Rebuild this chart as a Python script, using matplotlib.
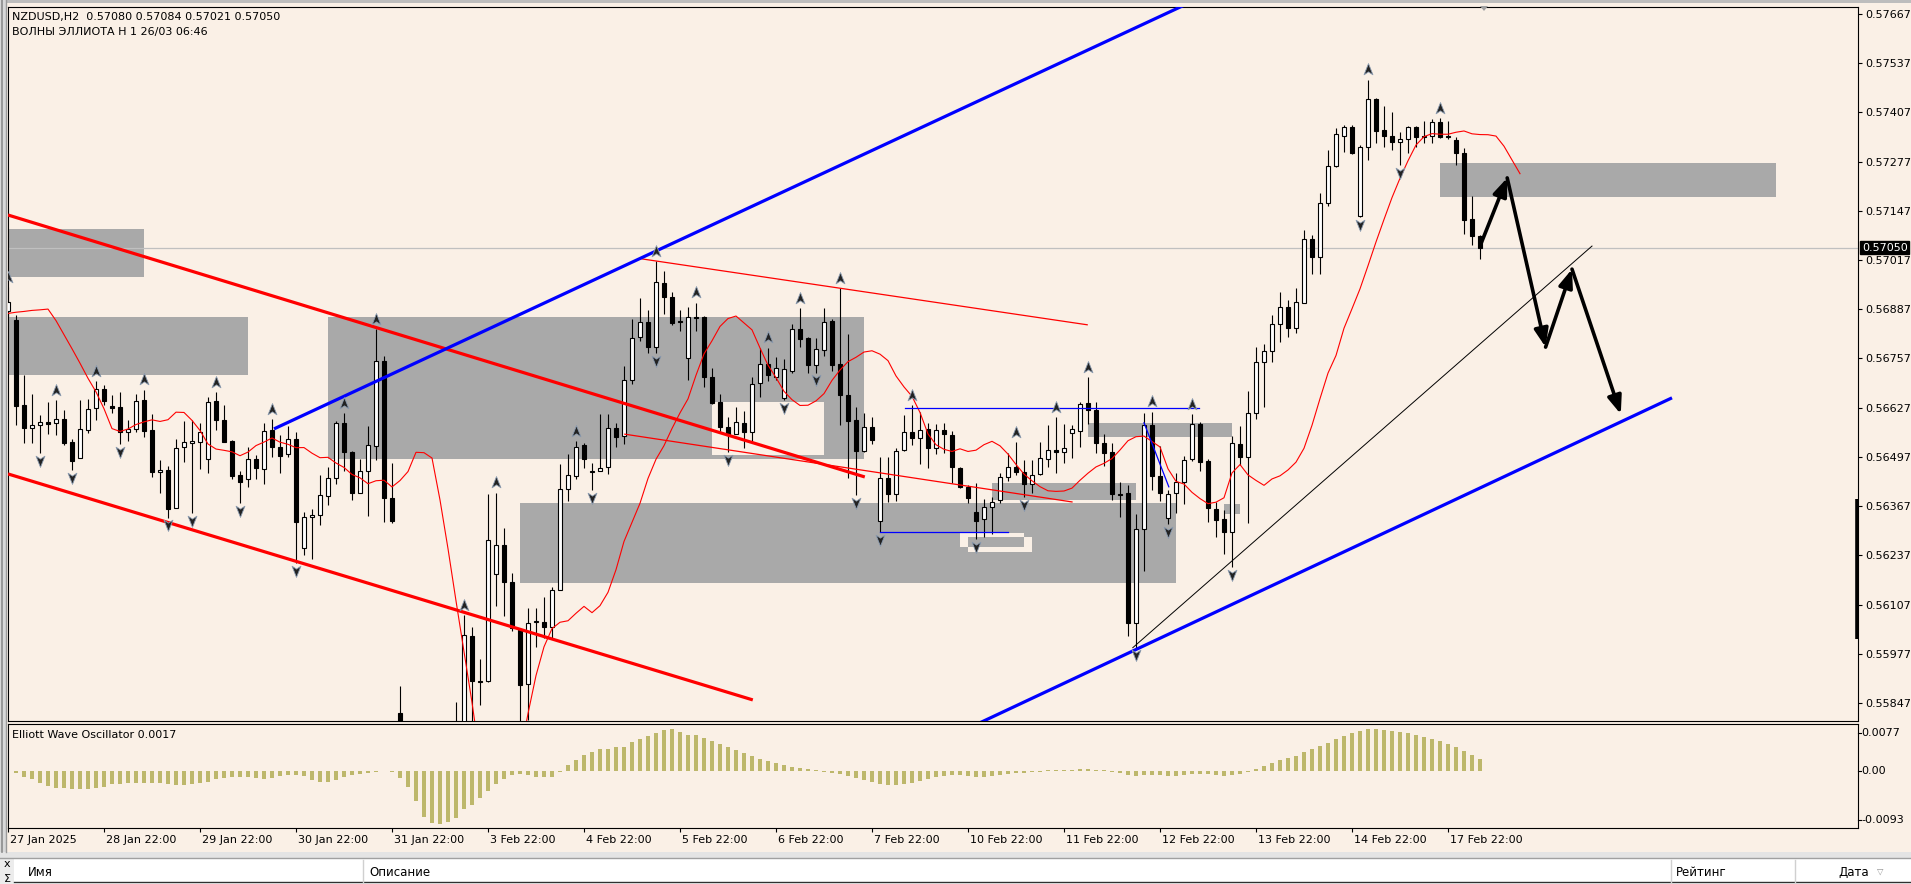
import numpy as np
import matplotlib
matplotlib.use("Agg")
import matplotlib.pyplot as plt
from matplotlib.path import Path
from matplotlib.patches import Rectangle, Polygon
import matplotlib.transforms as mtransforms

plt.rcParams['font.family'] = ['DejaVu Sans']

# ---------------- data ----------------
symbol_line = "NZDUSD,H2  0.57080 0.57084 0.57021 0.57050"
indicator_line = "ВОЛНЫ ЭЛЛИОТА H 1 26/03 06:46"
osc_title = "Elliott Wave Oscillator 0.0017"
date_labels = ["27 Jan 2025", "28 Jan 22:00", "29 Jan 22:00", "30 Jan 22:00", "31 Jan 22:00",
               "3 Feb 22:00", "4 Feb 22:00", "5 Feb 22:00", "6 Feb 22:00", "7 Feb 22:00",
               "10 Feb 22:00", "11 Feb 22:00", "12 Feb 22:00", "13 Feb 22:00", "14 Feb 22:00",
               "17 Feb 22:00"]
date_label_bars = [0, 12, 24, 36, 48, 60, 72, 84, 96, 108, 120, 132, 144, 156, 168, 180]
price_ticks = [0.57667, 0.57537, 0.57407, 0.57277, 0.57147, 0.57017, 0.56887, 0.56757,
               0.56627, 0.56497, 0.56367, 0.56237, 0.56107, 0.55977, 0.55847]
price_tick_labels = ["0.57667", "0.57537", "0.57407", "0.57277", "0.57147", "0.57017", "0.56887",
                     "0.56757", "0.56627", "0.56497", "0.56367", "0.56237", "0.56107", "0.55977",
                     "0.55847"]
current_price = 0.57050
osc_ticks = [0.0077, 0.0, -0.0093]
osc_tick_labels = ["0.0077", "0.00", "-0.0093"]

# H2 candles, prices in points (1e-5)
open_pts = [56882,56859,56634,56573,56581,56589,56586,56597,56536,56494,
 56568,56626,56676,56631,56629,56563,56571,56647,56568,56457,
 56462,56362,56523,56534,56536,56491,56645,56594,56539,56449,
 56438,56491,56465,56568,56523,56504,56544,56256,56338,56343,
 56394,56441,56586,56510,56402,56460,56525,56750,56388,55820,
 55700,55480,55300,55380,55460,55560,55660,55760,56024,55905,
 55905,56188,56264,56167,56040,55897,56061,56061,56048,56145,
 56412,56446,56528,56457,56460,56470,56573,56552,56700,56814,
 56853,56787,56956,56919,56856,56758,56867,56867,56708,56642,
 56576,56557,56586,56563,56692,56742,56708,56652,56724,56835,
 56811,56740,56779,56856,56742,56660,56594,56512,56576,56328,
 56441,56399,56515,56563,56547,56571,56520,56568,56555,56468,
 56417,56351,56333,56365,56383,56444,56470,56457,56425,56452,
 56491,56515,56510,56560,56565,56640,56621,56534,56510,56399,
 56402,56058,56306,56581,56446,56336,56402,56431,56491,56583,
 56486,56359,56333,56298,56531,56497,56613,56748,56776,56848,
 56893,56838,56903,57073,57025,57168,57265,57345,57369,57133,
 57315,57442,57361,57345,57329,57337,57369,57345,57345,57382,
 57345,57334,57300,57125,57080]
high_pts = [56946,56872,56713,56663,56608,56642,56647,56621,56544,56647,
 56650,56697,56687,56660,56668,56594,56663,56674,56610,56489,
 56473,56544,56592,56594,56586,56655,56668,56634,56541,56459,
 56523,56502,56586,56597,56555,56578,56563,56351,56359,56449,
 56470,56592,56613,56512,56491,56578,56835,56764,56481,55892,
 55740,55560,55420,55500,55600,55700,55850,56079,56048,55963,
 56399,56402,56309,56190,56043,56098,56098,56127,56153,56478,
 56505,56539,56534,56481,56610,56610,56586,56737,56861,56917,
 56885,57014,56988,56932,56885,56893,56904,56869,56732,56663,
 56602,56629,56618,56708,56784,56785,56761,56756,56848,56890,
 56813,56811,56890,56861,56943,56822,56629,56613,56602,56497,
 56497,56520,56608,56634,56616,56586,56583,56586,56565,56470,
 56423,56428,56386,56391,56454,56507,56536,56489,56489,56536,
 56581,56602,56583,56581,56641,56708,56642,56557,56534,56431,
 56423,56346,56613,56616,56525,56409,56454,56499,56610,56589,
 56491,56378,56356,56552,56578,56671,56787,56795,56872,56932,
 56912,56943,57096,57083,57194,57308,57366,57374,57374,57321,
 57493,57444,57424,57408,57355,57371,57371,57384,57390,57392,
 57384,57342,57313,57186,57084]
low_pts = [56867,56581,56534,56534,56507,56557,56555,56528,56462,56494,
 56560,56594,56634,56613,56531,56539,56563,56550,56444,56402,
 56336,56362,56483,56349,56465,56454,56568,56536,56438,56375,
 56417,56438,56425,56497,56454,56497,56217,56238,56227,56317,
 56370,56425,56460,56383,56402,56341,56489,56325,56322,55640,
 55420,55160,55200,55330,55420,55500,55600,55720,55780,55842,
 55902,56103,56076,56037,55776,55802,55995,56019,56019,56145,
 56380,56438,56468,56409,56460,56452,56523,56531,56690,56803,
 56771,56771,56874,56845,56830,56700,56830,56682,56637,56560,
 56510,56557,56520,56536,56655,56697,56700,56647,56719,56787,
 56719,56719,56763,56724,56581,56441,56396,56510,56531,56298,
 56378,56380,56512,56528,56478,56468,56504,56507,56428,56415,
 56375,56280,56285,56293,56375,56433,56449,56391,56402,56449,
 56470,56454,56481,56494,56523,56584,56507,56473,56383,56338,
 56024,55993,56196,56409,56380,56320,56349,56372,56486,56460,
 56325,56285,56240,56206,56475,56322,56597,56629,56748,56800,
 56814,56824,56903,56980,56980,57160,57263,57302,57297,57131,
 57281,57326,57315,57308,57268,57300,57315,57326,57326,57339,
 57337,57268,57086,57057,57021]
close_pts = [56906,56631,56573,56581,56589,56583,56597,56534,56486,56571,
 56624,56676,56645,56626,56563,56571,56645,56565,56457,56462,
 56359,56520,56536,56539,56563,56642,56594,56536,56446,56431,
 56491,56468,56565,56523,56499,56544,56325,56338,56343,56396,
 56441,56586,56510,56402,56460,56528,56750,56388,56328,55700,
 55480,55300,55380,55460,55560,55660,55760,56026,55905,55902,
 56278,56264,56167,56045,55894,56058,56063,56048,56145,56412,
 56449,56523,56491,56460,56468,56573,56550,56700,56811,56853,
 56787,56959,56919,56851,56853,56867,56864,56708,56640,56576,
 56555,56589,56563,56690,56742,56713,56732,56729,56835,56808,
 56740,56782,56853,56740,56660,56592,56512,56576,56541,56441,
 56399,56512,56563,56547,56568,56520,56568,56557,56470,56417,
 56388,56328,56365,56378,56444,56470,56457,56425,56449,56494,
 56515,56510,56520,56571,56638,56621,56534,56507,56399,56396,
 56058,56306,56581,56446,56402,56399,56431,56489,56583,56483,
 56362,56330,56298,56534,56497,56613,56748,56776,56848,56893,
 56838,56906,57073,57025,57168,57265,57350,57369,57300,57315,
 57442,57358,57345,57329,57337,57369,57342,57342,57382,57342,
 57342,57300,57123,57080,57050]
# closes of the 12 bars before the first visible bar (feed the moving average)
pre_close_pts = [56870,56885,56862,56878,56890,56875,56868,56880,56895,56902,56884,56890]
ma_period = 8
ma_shift = 5

# Elliott Wave Oscillator, bars 1..184, units of 1e-4
osc_e4 = [
-3.8,-9.3,-13.1,-20.1,-24.5,-27.3,-27.3,-28.9,-28.9,-28.9,
-27.3,-25.7,-21.7,-21.3,-20.1,-20.1,-19.1,-19.1,-20.1,-21.7,
-23.4,-22.9,-21.7,-20.1,-17.5,-13.1,-11.0,-10.3,-10.3,-10.3,
-11.9,-13.1,-11.9,-8.2,-6.5,-6.5,-8.2,-14.7,-17.5,-17.5,
-14.7,-10.3,-6.5,-4.9,-3.8,-2.1,0.5,-1.1,-11.9,-25.7,
-49.1,-74.7,-85.5,-86.7,-82.9,-77.3,-62.6,-55.6,-44.6,-32.7,
-21.3,-13.1,-6.5,-4.9,-6.5,-9.3,-9.3,-9.3,-1.1,9.8,
18.0,26.2,31.6,35.5,36.0,39.7,39.7,46.9,51.8,57.7,
61.6,67.0,68.2,64.3,58.9,58.9,54,49,44,39,
34,29,25,20,16,13,10,7,5,3,
2,-2,-3,-5,-8,-11,-15,-18,-21,-23,
-23,-21,-20,-16,-13,-10,-8,-7,-7,-8,
-10,-10,-8,-7,-5,-3,-3,-2,-2,1,
2,2,2.5,3,3,2.5,2,-2,-3,-7,
-8,-7,-7,-7,-8,-8,-7,-5,-5,-5,
-7,-8,-7,-5,-2,3,8,13,18,21,
25,31,36,41,46,52,57,62,65,69,
69,67,65,64,62,59,56,52,49,44,
39,33,26,20]
osc_first_bar = 1

# fractal bars
fractal_up_bars = [0, 6, 11, 17, 26, 33, 42, 46, 57, 61, 71, 81, 86, 95, 99, 104,
                   113, 126, 131, 135, 143, 148, 170, 179]
fractal_dn_bars = [4, 8, 14, 20, 23, 29, 36, 73, 81, 90, 97, 101, 106, 109, 121,
                   127, 141, 145, 153, 169, 174]

# supply / demand zones (bar from, bar to, price low, price high)
zone_x0 = [-1, -1, 40, 64, 123, 135, 152, 179]
zone_x1 = [17, 30, 107, 146, 141, 153, 154, 221]
zone_lo = [0.56972, 0.56713, 0.56491, 0.56164, 0.56383, 0.56550, 0.56346, 0.57184]
zone_hi = [0.57099, 0.56867, 0.56867, 0.56375, 0.56428, 0.56586, 0.56373, 0.57273]
# overlapping parts shown in background colour
cut_x0 = [88, 119, 120]
cut_x1 = [102, 127, 128]
cut_lo = [0.56502, 0.56259, 0.56246]
cut_hi = [0.56642, 0.56296, 0.56285]
overlap_x0, overlap_x1, overlap_lo, overlap_hi = 120, 127, 0.56259, 0.56285

# trend lines (bars, prices)
red_upper_x, red_upper_y = [0, 107.1], [0.57136, 0.56444]
red_lower_x, red_lower_y = [0, 93.1], [0.56452, 0.55855]
red_thin_up_x, red_thin_up_y = [79.25, 134.9], [0.57020, 0.56846]
red_thin_lo_x, red_thin_lo_y = [77.1, 133.0], [0.56557, 0.56378]
blue_upper_x, blue_upper_y = [33.25, 148.0], [0.56571, 0.57700]
blue_lower_x, blue_lower_y = [118.0, 208.0], [0.55760, 0.56653]
blue_h1_x, blue_h1_y = [112.1, 148.9], [0.56626, 0.56626]
blue_h2_x, blue_h2_y = [109.0, 125.0], [0.56299, 0.56299]
blue_slant_x, blue_slant_y = [142.0, 145.1], [0.56587, 0.56418]
black_thin_x, black_thin_y = [140.6, 198.0], [0.55993, 0.57054]
wave_x = [184.1, 187.4, 192.2, 195.5, 201.6]
wave_y = [0.57059, 0.57234, 0.56787, 0.56993, 0.56610]
range_bar_lo, range_bar_hi = 0.56016, 0.56386

# ---------------- figure ----------------
W, H = 1911, 884
BG = '#FAF0E6'
fig = plt.figure(figsize=(W / 100, H / 100), dpi=100)
fig.patch.set_facecolor(BG)


def fx(p):
    return p / W


def fy(p):
    return 1 - p / H


ax = fig.add_axes([fx(8), fy(721), fx(1858) - fx(8), fy(7) - fy(721)])
axo = fig.add_axes([fx(8), fy(828), fx(1858) - fx(8), fy(724) - fy(828)])
for a in (ax, axo):
    a.set_facecolor(BG)
    for s in a.spines.values():
        s.set_color('black')
        s.set_linewidth(0.8)

XMAX = 231.25
ax.set_xlim(0, XMAX)
ax.set_ylim(0.557993, 0.576855)
axo.set_xlim(0, XMAX)
axo.set_ylim(-0.0093, 0.0077)

o = np.array(open_pts) / 1e5
h = np.array(high_pts) / 1e5
l = np.array(low_pts) / 1e5
c = np.array(close_pts) / 1e5
h = np.maximum(h, np.maximum(o, c))
l = np.minimum(l, np.minimum(o, c))
x = np.arange(len(o))

# zones
for x0, x1, lo, hi in zip(zone_x0, zone_x1, zone_lo, zone_hi):
    ax.add_patch(Rectangle((x0, lo), x1 - x0, hi - lo, facecolor='#A9A9A9', edgecolor='none', zorder=1))
for x0, x1, lo, hi in zip(cut_x0, cut_x1, cut_lo, cut_hi):
    ax.add_patch(Rectangle((x0, lo), x1 - x0, hi - lo, facecolor=BG, edgecolor='none', zorder=1.1))
ax.add_patch(Rectangle((overlap_x0, overlap_lo), overlap_x1 - overlap_x0, overlap_hi - overlap_lo,
                       facecolor='#A9A9A9', edgecolor='none', zorder=1.2))

# current price line
ax.axhline(current_price, color='#C0C0C0', lw=0.9, zorder=1.5)

# candles
ax.vlines(x, l, h, color='black', lw=0.8, zorder=3)
up = c >= o
blo = np.minimum(o, c)
bh = np.abs(c - o)
ax.bar(x[up], bh[up], bottom=blo[up], width=0.6, facecolor='white', edgecolor='black', lw=0.8, zorder=4)
ax.bar(x[~up], bh[~up], bottom=blo[~up], width=0.6, facecolor='black', edgecolor='black', lw=0.8, zorder=4)

# moving average (SMA 8 of close, shifted 5 bars forward)
ext = np.concatenate([np.array(pre_close_pts) / 1e5, c])
sma = np.convolve(ext, np.ones(ma_period) / ma_period, mode='valid')
ma_bars = np.arange(len(sma)) + (len(pre_close_pts) - (ma_period - 1)) - len(pre_close_pts) + ma_shift + (ma_period - 1) - ma_shift
ax.plot(np.arange(len(sma)), sma, color='#FF0000', lw=0.8, zorder=5)

# trend lines
ax.plot(red_upper_x, red_upper_y, color='#FF0000', lw=2.3, zorder=6, solid_capstyle='butt')
ax.plot(red_lower_x, red_lower_y, color='#FF0000', lw=2.3, zorder=6, solid_capstyle='butt')
ax.plot(red_thin_up_x, red_thin_up_y, color='#FF0000', lw=0.9, zorder=6)
ax.plot(red_thin_lo_x, red_thin_lo_y, color='#FF0000', lw=0.9, zorder=6)
ax.plot(blue_upper_x, blue_upper_y, color='#0000FF', lw=2.3, zorder=6, solid_capstyle='butt')
ax.plot(blue_lower_x, blue_lower_y, color='#0000FF', lw=2.3, zorder=6, solid_capstyle='butt')
ax.plot(blue_h1_x, blue_h1_y, color='#0000FF', lw=0.9, zorder=6)
ax.plot(blue_h2_x, blue_h2_y, color='#0000FF', lw=0.9, zorder=6)
ax.plot(blue_slant_x, blue_slant_y, color='#0000FF', lw=0.9, zorder=6)
ax.plot(black_thin_x, black_thin_y, color='black', lw=0.7, zorder=6)

for i in range(len(wave_x) - 1):
    ax.annotate('', xy=(wave_x[i + 1], wave_y[i + 1]), xytext=(wave_x[i], wave_y[i]),
                arrowprops=dict(arrowstyle='-|>,head_length=0.9,head_width=0.35', lw=2.6,
                                color='black', shrinkA=0, shrinkB=0, mutation_scale=12),
                zorder=7)

# fractal arrows
up_path = Path([(0, 1), (0.75, -0.9), (0, -0.4), (-0.75, -0.9), (0, 1)],
               [Path.MOVETO, Path.LINETO, Path.LINETO, Path.LINETO, Path.CLOSEPOLY])
dn_path = Path([(0, -1), (0.75, 0.9), (0, 0.4), (-0.75, 0.9), (0, -1)],
               [Path.MOVETO, Path.LINETO, Path.LINETO, Path.LINETO, Path.CLOSEPOLY])
tr_up = mtransforms.offset_copy(ax.transData, fig=fig, x=0, y=7.5, units='points')
tr_dn = mtransforms.offset_copy(ax.transData, fig=fig, x=0, y=-5.5, units='points')
fu = np.array(fractal_up_bars)
fd = np.array(fractal_dn_bars)
ax.plot(fu, h[fu], ls='none', marker=up_path, ms=8.5, mfc='#222222', mec='#8a9bb0', mew=0.6,
        transform=tr_up, zorder=8)
ax.plot(fd, l[fd], ls='none', marker=dn_path, ms=8.5, mfc='#222222', mec='#8a9bb0', mew=0.6,
        transform=tr_dn, zorder=8)

# range bar on the right edge
ax.plot([XMAX - 0.1, XMAX - 0.1], [range_bar_lo, range_bar_hi], color='black', lw=2.6,
        clip_on=False, zorder=9, solid_capstyle='butt')

# price axis
ax.set_xticks([])
ax.yaxis.tick_right()
ax.set_yticks(price_ticks)
ax.set_yticklabels(price_tick_labels, fontsize=8)
ax.tick_params(axis='y', length=3, width=0.8, pad=2, colors='black')
blend = mtransforms.blended_transform_factory(fig.transFigure, ax.transData)
ax.text(fx(1862), current_price, "0.57050", transform=blend, fontsize=8, color='white',
        ha='left', va='center', zorder=10,
        bbox=dict(boxstyle='square,pad=0.15', facecolor='black', edgecolor='black'))

# oscillator
ob = np.arange(osc_first_bar, osc_first_bar + len(osc_e4))
axo.bar(ob, np.array(osc_e4) * 1e-4, width=0.4, color='#BDB76B', zorder=2)
axo.set_yticks([])
axo.set_xticks(date_label_bars)
axo.set_xticklabels(date_labels, fontsize=8, ha='left')
axo.tick_params(axis='x', length=3, width=0.8, pad=2)
off = mtransforms.ScaledTranslation(2 / 100, 0, fig.dpi_scale_trans)
for lab in axo.get_xticklabels():
    lab.set_transform(lab.get_transform() + off)
# scale labels of the oscillator window (top, zero, bottom)
for ypix, s in zip([733, 771, 820], osc_tick_labels):
    fig.text(fx(1861), fy(ypix), s, fontsize=8, ha='left', va='center')
    fig.add_artist(plt.Line2D([fx(1858), fx(1861)], [fy(ypix), fy(ypix)], color='black', lw=0.8))
axo.text(fx(12), fy(735), osc_title, transform=fig.transFigure, fontsize=8, ha='left', va='center')

# header texts
fig.text(fx(12), fy(17), symbol_line, fontsize=8, ha='left', va='center')
fig.text(fx(12), fy(32), indicator_line, fontsize=8, ha='left', va='center')

# window chrome
fig.patches.append(Rectangle((0, fy(3)), 1, 3 / H, transform=fig.transFigure,
                             facecolor='#BDBDBD', edgecolor='none'))
fig.patches.append(Rectangle((0, fy(852)), fx(6), fy(0) - fy(852), transform=fig.transFigure,
                             facecolor='#D8D8D8', edgecolor='none'))
fig.add_artist(plt.Line2D([fx(1.5), fx(1.5)], [fy(852), 1], color='#8C8C8C', lw=1.2))
fig.add_artist(plt.Line2D([fx(6), fx(6)], [fy(852), 1], color='#9A9A9A', lw=1.0))
fig.patches.append(Polygon([[fx(1480), fy(6)], [fx(1488), fy(6)], [fx(1484), fy(11)]],
                           closed=True, transform=fig.transFigure, facecolor='#A0A0A0',
                           edgecolor='none'))

# bottom toolbox panel
fig.patches.append(Rectangle((0, fy(858)), 1, 6 / H, transform=fig.transFigure,
                             facecolor='#E4E4E4', edgecolor='none'))
fig.add_artist(plt.Line2D([0, 1], [fy(858), fy(858)], color='#A0A0A0', lw=1.0))
fig.patches.append(Rectangle((fx(14), 0), 1, fy(859), transform=fig.transFigure,
                             facecolor='white', edgecolor='none'))
fig.patches.append(Rectangle((0, 0), fx(14), fy(859), transform=fig.transFigure,
                             facecolor='#ECECEC', edgecolor='none'))
fig.add_artist(plt.Line2D([fx(14), 1], [fy(882), fy(882)], color='#303030', lw=1.0))
for sx in [363, 1671, 1795]:
    fig.add_artist(plt.Line2D([fx(sx), fx(sx)], [fy(882), fy(860)], color='#D0D0D0', lw=1.0))
fig.text(fx(7), fy(864), "x", fontsize=8, ha='center', va='center')
fig.text(fx(7), fy(879), "Σ", fontsize=8, ha='center', va='center')
fig.text(fx(28), fy(872), "Имя", fontsize=8.5, ha='left', va='center')
fig.text(fx(369), fy(872), "Описание", fontsize=8.5, ha='left', va='center')
fig.text(fx(1676), fy(872), "Рейтинг", fontsize=8.5, ha='left', va='center')
fig.text(fx(1838), fy(872), "Дата", fontsize=8.5, ha='left', va='center')
fig.text(fx(1880), fy(871), "▽", fontsize=6, ha='center', va='center', color='#909090')

fig.savefig("out.png", dpi=100, facecolor=fig.get_facecolor())
